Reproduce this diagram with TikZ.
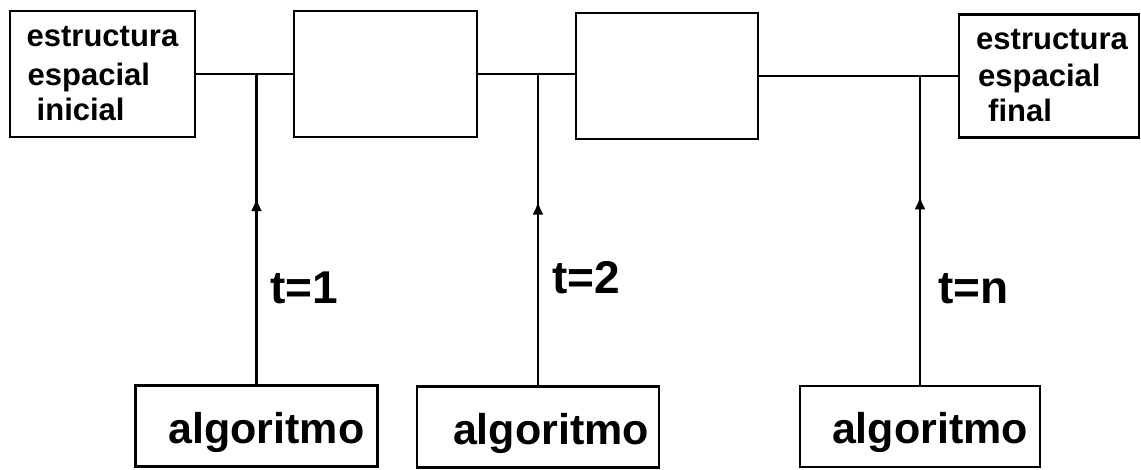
\documentclass[tikz,border=0pt]{standalone}
\usepackage{fontspec}
\usepackage{graphicx}
\setmainfont{Liberation Sans}
\usetikzlibrary{arrows.meta,decorations.markings}
\begin{document}
\begin{tikzpicture}[x=1pt,y=-1pt,
  every node/.style={font=\bfseries},
  bigbox/.style={draw,line width=2.6pt,inner sep=0pt,anchor=center},
  stbox/.style={bigbox,align=left,font=\bfseries\fontsize{31}{37}\selectfont},
  algbox/.style={bigbox,minimum width=242pt,minimum height=81pt,
     font=\bfseries\fontsize{43}{43}\selectfont,text height=34pt,text depth=0pt},
  tlab/.style={anchor=base west,font=\bfseries\fontsize{46}{46}\selectfont,inner sep=0pt},
  conn/.style={line width=2.4pt},
  upconn/.style={conn,postaction={decorate},decoration={markings,
     mark=at position #1 with {\arrow{Latex[length=13pt,width=11pt]}}}}
]
\useasboundingbox (0,0) rectangle (1141,469);
% top row
\node[stbox,minimum width=185pt,minimum height=126pt] (ini) at (102.5,74)
  {estructura\\[2pt]\hspace*{1pt}espacial\\[-2pt]\hspace*{10pt}inicial};
\node[bigbox,minimum width=183pt,minimum height=126pt] (b2) at (385.5,74) {};
\node[bigbox,minimum width=182pt,minimum height=126pt] (b3) at (667,76) {};
\node[stbox,minimum width=180pt,minimum height=123pt] (fin) at (1049,76)
  {\hspace*{6pt}estructura\\[0pt]\hspace*{8pt}espacial\\[-2pt]\hspace*{18pt}final};
% bottom row
\node[algbox] (a1) at (256.5,426) {\hspace*{20pt}algoritmo};
\node[algbox] (a2) at (538,427) {\hspace*{26pt}algoritmo};
\node[algbox,minimum width=240pt] (a3) at (920,426.5) {\hspace*{20pt}algoritmo};
% horizontal connectors
\draw[conn] (ini.east) -- (b2.west);
\draw[conn] (b2.east) -- (b2.east -| b3.west);
\draw[conn] (b3.east) -- (fin.west);
% junction points
\coordinate (j1) at (a1.north |- ini.east);
\coordinate (j2) at (a2.north |- b2.east);
\coordinate (j3) at (a3.north |- b3.east);
% vertical connectors with mid arrows
\draw[upconn=0.6] (a1.north) -- (j1);
\draw[upconn=0.59] (a2.north) -- (j2);
\draw[upconn=0.61] (a3.north) -- (j3);
% labels
\node[tlab] (t1) at (270,303) {t=1};
\node[tlab] (t2) at (552,293) {t=2};
\node[tlab] (tn) at (938,303) {t=n};
\end{tikzpicture}
\end{document}
